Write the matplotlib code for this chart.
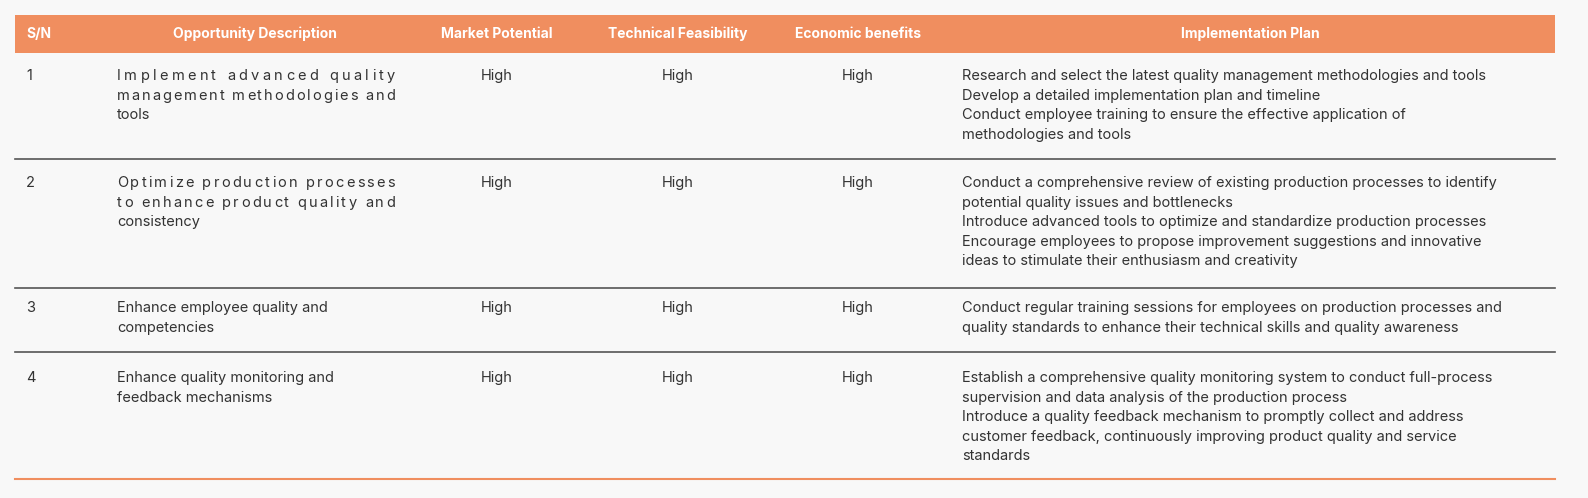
import matplotlib
matplotlib.use("Agg")
import matplotlib.pyplot as plt
from matplotlib.textpath import TextPath
from matplotlib.font_manager import FontProperties

W, H = 1588, 498
headers = ["S/N", "Opportunity Description", "Market Potential",
           "Technical Feasibility", "Economic benefits", "Implementation Plan"]
sn = ["1", "2", "3", "4"]
descriptions = [
    ["Implement advanced quality", "management methodologies and", "tools"],
    ["Optimize production processes", "to enhance product quality and", "consistency"],
    ["Enhance employee quality and", "competencies"],
    ["Enhance quality monitoring and", "feedback mechanisms"],
]
justified = [True, True, False, False]
market = ["High", "High", "High", "High"]
technical = ["High", "High", "High", "High"]
economic = ["High", "High", "High", "High"]
plans = [
    ["Research and select the latest quality management methodologies and tools",
     "Develop a detailed implementation plan and timeline",
     "Conduct employee training to ensure the effective application of",
     "methodologies and tools"],
    ["Conduct a comprehensive review of existing production processes to identify",
     "potential quality issues and bottlenecks",
     "Introduce advanced tools to optimize and standardize production processes",
     "Encourage employees to propose improvement suggestions and innovative",
     "ideas to stimulate their enthusiasm and creativity"],
    ["Conduct regular training sessions for employees on production processes and",
     "quality standards to enhance their technical skills and quality awareness"],
    ["Establish a comprehensive quality monitoring system to conduct full-process",
     "supervision and data analysis of the production process",
     "Introduce a quality feedback mechanism to promptly collect and address",
     "customer feedback, continuously improving product quality and service",
     "standards"],
]

orange = "#F08E5F"
txt = "#333333"
fs = 10.5
row_tops = [76, 183, 308, 378]
row_lines = [159, 288, 352]
line_h = 19.5

fig = plt.figure(figsize=(W / 100, H / 100), dpi=100, facecolor="#F8F8F8")
ax = fig.add_axes([0, 0, 1, 1])
ax.set_xlim(0, W)
ax.set_ylim(H, 0)
ax.axis("off")

ax.add_patch(plt.Rectangle((15, 15), 1540, 38, color=orange, lw=0))
head_x = [(26, "left"), (255, "center"), (497, "center"),
          (678, "center"), (858, "center"), (1250, "center")]
for (x, ha), h in zip(head_x, headers):
    ax.text(x, 34, h, ha=ha, va="center", color="white", fontsize=10,
            fontweight="bold", family="Inter")

for y in row_lines:
    ax.plot([15, 1555], [y, y], color="#555555", lw=1.2)
ax.plot([15, 1555], [479, 479], color=orange, lw=1.5)

fp = FontProperties(family="Inter", size=fs)
px_per_pt = 100 / 72


def char_w(c):
    if c == " ":
        return TextPath((0, 0), "a a", prop=fp).get_extents().width - \
            TextPath((0, 0), "aa", prop=fp).get_extents().width
    return TextPath((0, 0), "x" + c + "x", prop=fp).get_extents().width - \
        TextPath((0, 0), "xx", prop=fp).get_extents().width


def draw_justified(line, x0, x1, y):
    widths = [char_w(c) * px_per_pt for c in line]
    extra = (x1 - x0 - sum(widths)) / (len(line) - 1)
    x = x0
    for c, w in zip(line, widths):
        ax.text(x, y, c, ha="left", va="center", color=txt, fontsize=fs, family="Inter")
        x += w + extra


for i, top in enumerate(row_tops):
    ax.text(26, top, sn[i], ha="left", va="center", color=txt, fontsize=fs, family="Inter")
    for j, line in enumerate(descriptions[i]):
        y = top + j * line_h
        if justified[i] and j < len(descriptions[i]) - 1:
            draw_justified(line, 117, 395, y)
        else:
            ax.text(117, y, line, ha="left", va="center", color=txt, fontsize=fs, family="Inter")
    for x, vals in [(497, market), (678, technical), (858, economic)]:
        ax.text(x, top, vals[i], ha="center", va="center", color=txt, fontsize=fs, family="Inter")
    for j, line in enumerate(plans[i]):
        ax.text(962, top + j * line_h, line, ha="left", va="center", color=txt,
                fontsize=fs, family="Inter")

fig.savefig("out.png", dpi=100, facecolor=fig.get_facecolor())
